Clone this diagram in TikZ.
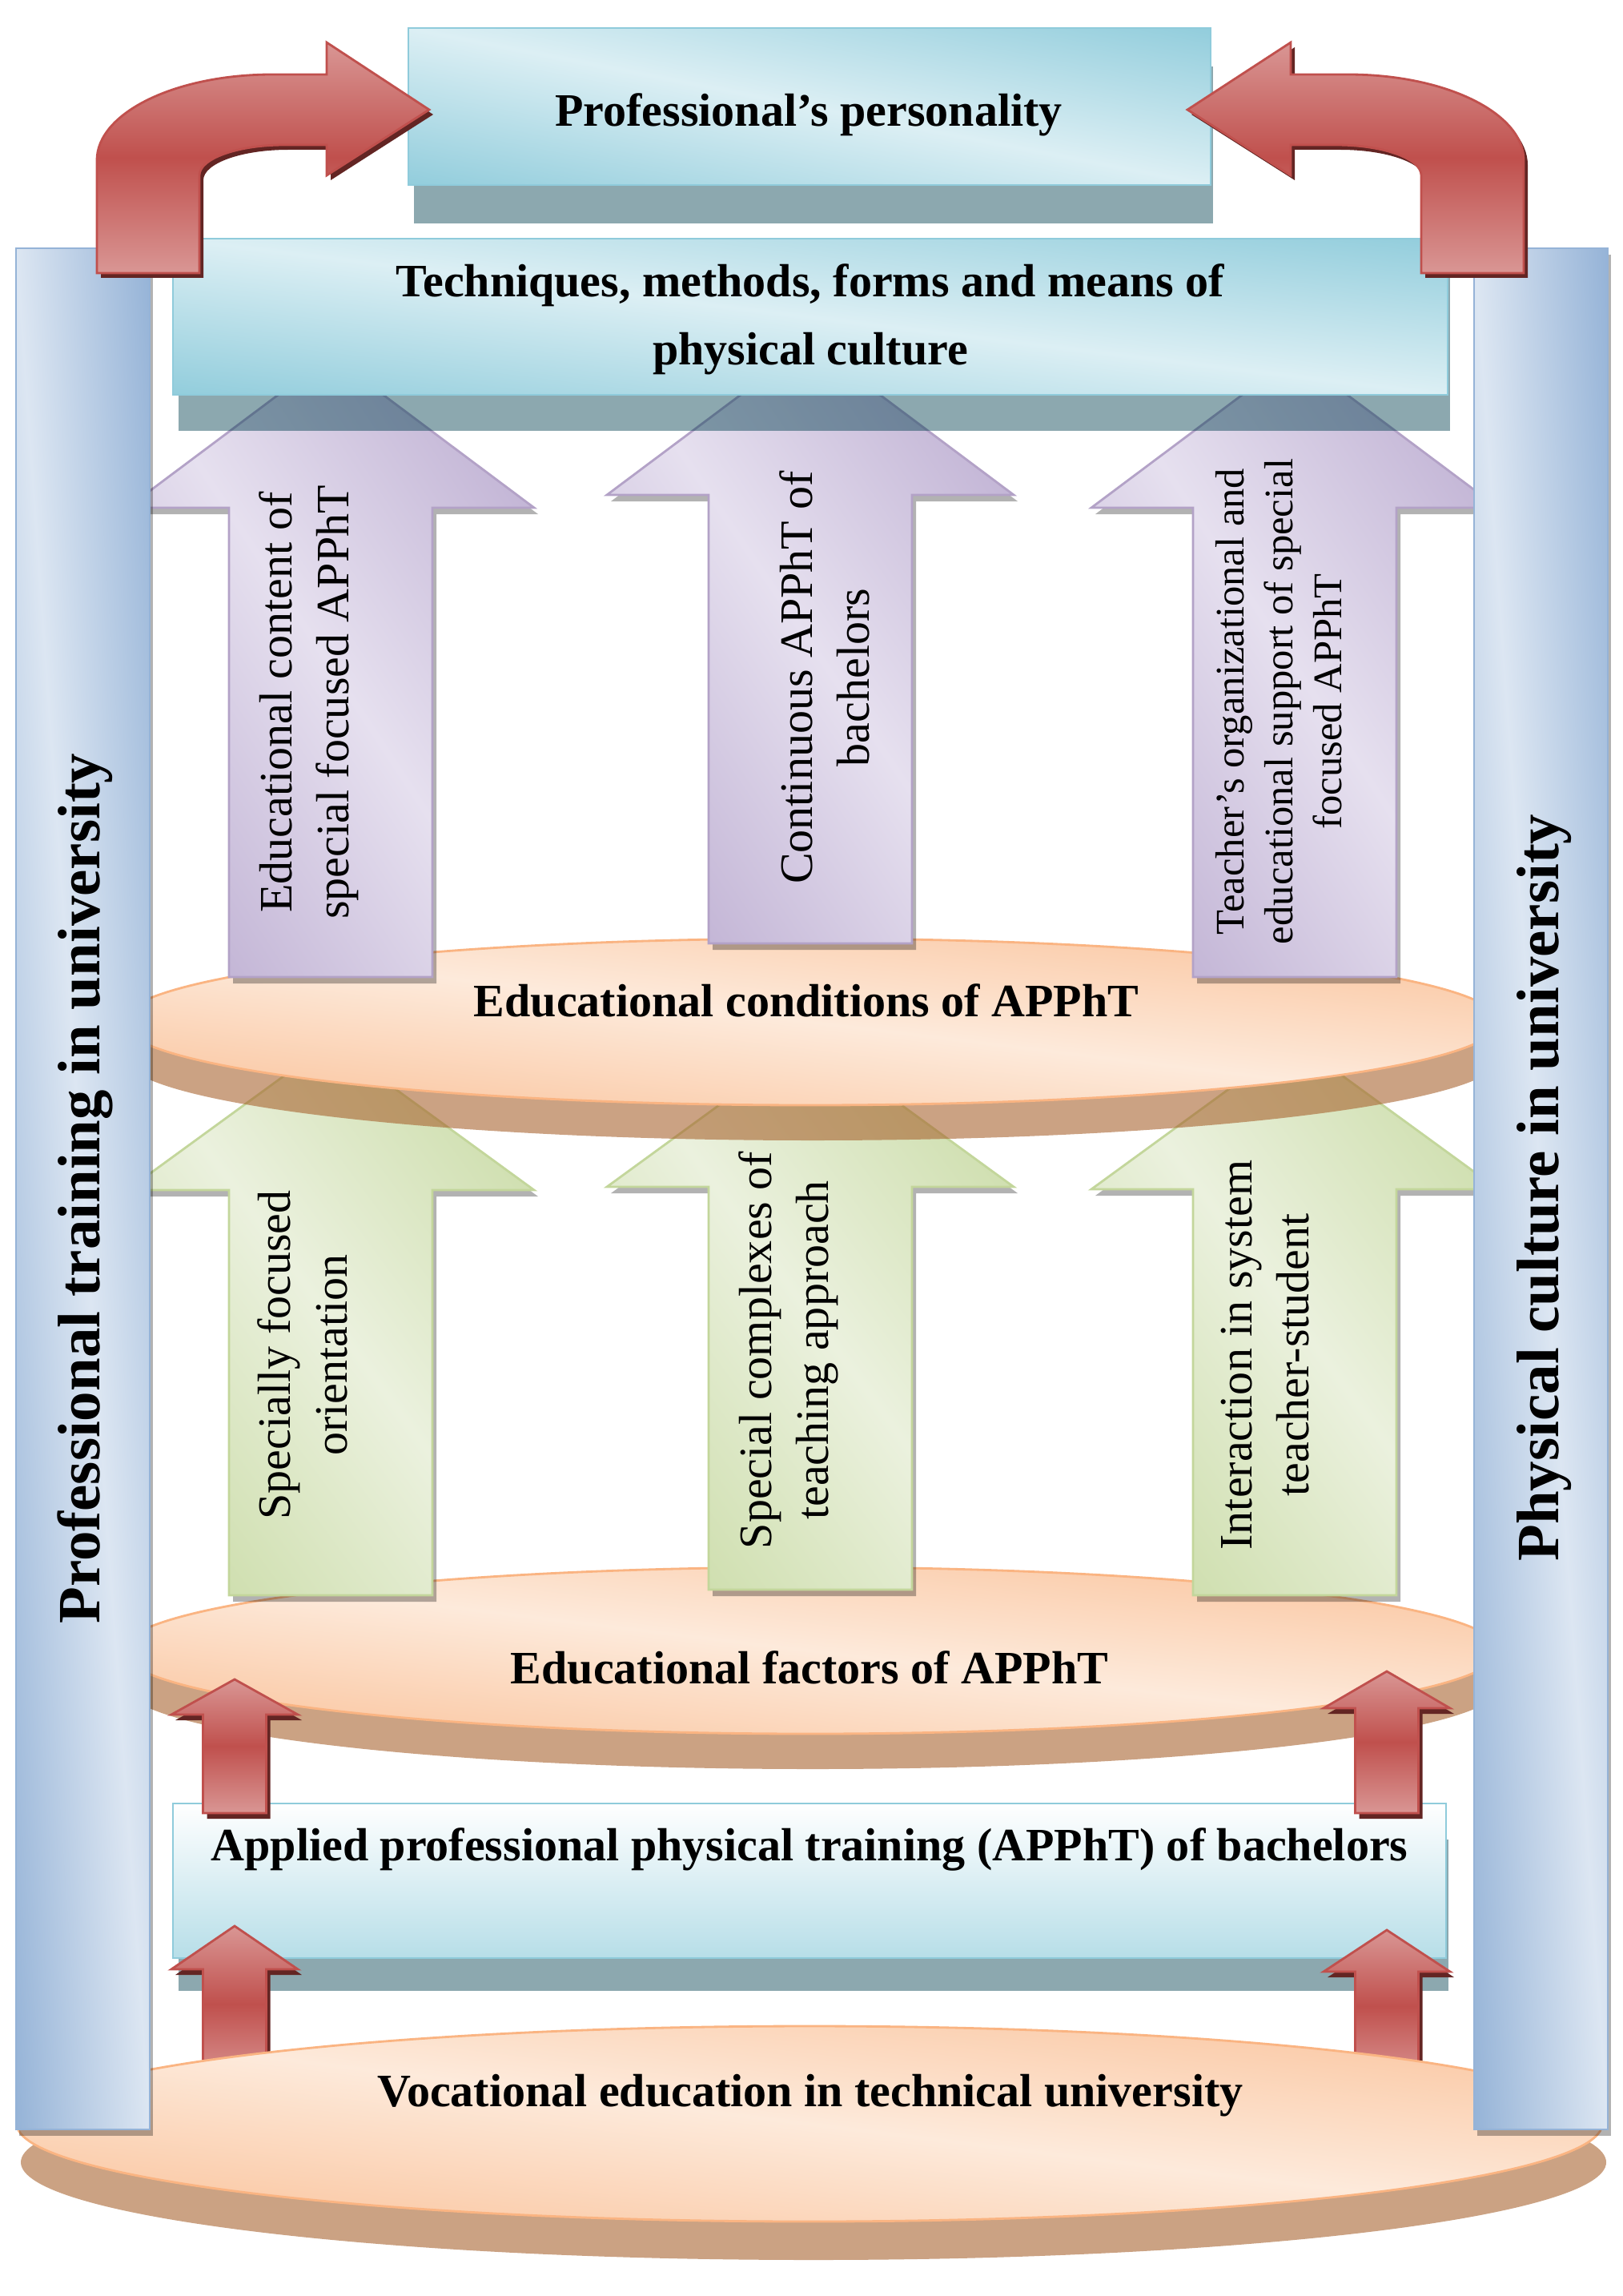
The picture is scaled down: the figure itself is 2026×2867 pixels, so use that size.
\documentclass[tikz,border=0pt]{standalone}
\usepackage{fontspec}
\setmainfont{Liberation Serif}
\definecolor{boxdark}{HTML}{92CDDC}
\definecolor{boxlight}{HTML}{DCEFF4}
\definecolor{boxline}{HTML}{8FCBDB}
\definecolor{boxshadow}{RGB}{0,62,77}
\definecolor{pildark}{HTML}{95B3D7}
\definecolor{pillight}{HTML}{DCE6F2}
\definecolor{purdark}{HTML}{B8A8CE}
\definecolor{purlight}{HTML}{E6E0EF}
\definecolor{purline}{HTML}{B3A2C7}
\definecolor{grndark}{HTML}{C6D9A0}
\definecolor{grnlight}{HTML}{EBF1DE}
\definecolor{grnline}{HTML}{C3D69B}
\definecolor{orgdark}{HTML}{FAC29A}
\definecolor{orglight}{HTML}{FDEADB}
\definecolor{orgline}{RGB}{250,180,130}
\definecolor{orgshadow}{RGB}{168,100,48}
\definecolor{redlight}{HTML}{D99694}
\definecolor{reddark}{HTML}{C0504D}
\definecolor{redshadow}{RGB}{99,37,35}
\definecolor{appbot}{HTML}{B7DEE8}
\tikzset{
  boxline/.style={draw=boxline, line width=0.8pt},
  boxshade/.style={fill=boxshadow, fill opacity=0.45},
  appstyle/.style={draw=boxline, line width=0.8pt, top color=white, bottom color=appbot},
  pillarline/.style={draw=pildark, line width=0.8pt},
  grayshade/.style={fill=black, fill opacity=0.3},
  purline/.style={draw=purline, line width=0.8pt},
  grnline/.style={draw=grnline, line width=0.8pt},
  orgline/.style={draw=orgline, line width=0.8pt},
  orgshade/.style={fill=orgshadow, fill opacity=0.6},
  redstyle/.style={draw=reddark, line width=0.8pt, top color=redlight, bottom color=redlight, middle color=reddark},
  redshade/.style={fill=redshadow},
  uparrow/.style n args={6}{insert path={({#1-#5},#4) -- ({#1-#5},#3) -- ({#1-#6},#3) -- (#1,#2) -- ({#1+#6},#3) -- ({#1+#5},#3) -- ({#1+#5},#4) -- cycle}},
  rectpath/.style n args={4}{insert path={(#1,#2) rectangle (#3,#4)}},
  ellpath/.style n args={4}{insert path={(#1,#2) ellipse[x radius=#3, y radius=#4]}},
  boldlabel/.style={font=\bfseries\fontsize{16.5}{24.2}\selectfont, inner sep=0pt, text=black},
  arrowlabel/.style={font=\fontsize{16.5}{20.2}\selectfont, inner sep=0pt, align=center, rotate=90, text=black},
  smalllabel/.style={font=\fontsize{14.4}{17.3}\selectfont, inner sep=0pt, align=center, rotate=90, text=black},
  pillarlabel/.style={font=\bfseries\fontsize{21.3}{25}\selectfont, inner sep=0pt, rotate=90, anchor=base, text=black}
}
% light band along the diagonal from top-left to bottom-right of the bounding box
\newcommand\bandshade[7]{%
  \pgfmathsetmacro\bw{#4-#2}\pgfmathsetmacro\bh{#5-#3}%
  \pgfmathsetmacro\bphi{atan(\bw/\bh)}%
  \pgfmathsetmacro\bD{(\bw/100)*\bh/veclen(\bw/100,\bh/100)}%
  \pgfmathsetmacro\bL{50*veclen(\bw/100,\bh/100)+60}%
  \pgfmathsetmacro\bcx{(#2+#4)/2}\pgfmathsetmacro\bcy{(#3+#5)/2}%
  \begin{scope}
    \clip[#1];
    \begin{scope}[transform canvas={shift={(\bcx,\bcy)}, rotate=\bphi}]
      \shade[left color=#6, right color=#6, middle color=#7] (-\bD,-\bL) rectangle (\bD,\bL);
    \end{scope}
  \end{scope}%
}
\begin{document}
\begin{tikzpicture}[x=0.01cm, y=-0.01cm, line join=miter]
\useasboundingbox (0,0) rectangle (2026,2867);

% top box
\path[boxshade] (517,83) rectangle (1515,279);
\bandshade{rectpath={510}{35}{1512}{231}}{510}{35}{1512}{231}{boxdark}{boxlight}
\path[boxline] (510,35) rectangle (1512,231);

% factors ellipse
\path[orgshade] (1015,2105) ellipse[x radius=860, y radius=104];
\bandshade{ellpath={1012}{2061}{860}{104}}{152}{1957}{1872}{2165}{orgdark}{orglight}
\path[orgline] (1012,2061) ellipse[x radius=860, y radius=104];

% green arrows
\path[grayshade, shift={(5,8)}, uparrow={413}{1301}{1486}{1992}{127}{254}];
\path[grayshade, shift={(5,8)}, uparrow={1012}{1297}{1482}{1985}{127}{254}];
\path[grayshade, shift={(5,8)}, uparrow={1617}{1300}{1485}{1992}{127}{254}];
\bandshade{uparrow={413}{1301}{1486}{1992}{127}{254}}{159}{1301}{667}{1992}{grndark}{grnlight}
\bandshade{uparrow={1012}{1297}{1482}{1985}{127}{254}}{758}{1297}{1266}{1985}{grndark}{grnlight}
\bandshade{uparrow={1617}{1300}{1485}{1992}{127}{254}}{1363}{1300}{1871}{1992}{grndark}{grnlight}
\path[grnline, uparrow={413}{1301}{1486}{1992}{127}{254}];
\path[grnline, uparrow={1012}{1297}{1482}{1985}{127}{254}];
\path[grnline, uparrow={1617}{1300}{1485}{1992}{127}{254}];

% conditions ellipse
\path[orgshade] (1015,1320) ellipse[x radius=860, y radius=104];
\bandshade{ellpath={1012}{1276}{860}{104}}{152}{1172}{1872}{1380}{orgdark}{orglight}
\path[orgline] (1012,1276) ellipse[x radius=860, y radius=104];

% purple arrows
\path[grayshade, shift={(5,8)}, uparrow={413}{444}{634}{1220}{127}{254}];
\path[grayshade, shift={(5,8)}, uparrow={1012}{428}{618}{1178}{127}{254}];
\path[grayshade, shift={(5,8)}, uparrow={1617}{444}{634}{1220}{127}{254}];
\bandshade{uparrow={413}{444}{634}{1220}{127}{254}}{159}{444}{667}{1220}{purdark}{purlight}
\bandshade{uparrow={1012}{428}{618}{1178}{127}{254}}{758}{428}{1266}{1178}{purdark}{purlight}
\bandshade{uparrow={1617}{444}{634}{1220}{127}{254}}{1363}{444}{1871}{1220}{purdark}{purlight}
\path[purline, uparrow={413}{444}{634}{1220}{127}{254}];
\path[purline, uparrow={1012}{428}{618}{1178}{127}{254}];
\path[purline, uparrow={1617}{444}{634}{1220}{127}{254}];

% techniques box
\path[boxshade] (223,343) rectangle (1811,538);
\bandshade{rectpath={216}{298}{1808}{493}}{216}{298}{1808}{493}{boxdark}{boxlight}
\path[boxline] (216,298) rectangle (1808,493);

% APPhT box
\path[boxshade] (223,2297) rectangle (1809,2486);
\path[appstyle] (216,2252) rectangle (1806,2445);

% lower red arrows (behind bottom ellipse)
\path[redshade, shift={(5,7)}, uparrow={293}{2405}{2459}{2600}{39.5}{79}];
\path[redshade, shift={(5,7)}, uparrow={1732}{2410}{2462}{2600}{39.5}{79}];
\path[redstyle, uparrow={293}{2405}{2459}{2600}{39.5}{79}];
\path[redstyle, uparrow={1732}{2410}{2462}{2600}{39.5}{79}];

% bottom ellipse
\path[orgshade] (1016,2700) ellipse[x radius=990, y radius=122];
\bandshade{ellpath={1011}{2652}{990}{122}}{21}{2530}{2001}{2774}{orgdark}{orglight}
\path[orgline] (1011,2652) ellipse[x radius=990, y radius=122];

% pillars
\path[grayshade] (24,318) rectangle (191,2667);
\path[grayshade] (1845,318) rectangle (2012,2667);
\bandshade{rectpath={20}{310}{187}{2659}}{20}{310}{187}{2659}{pildark}{pillight}
\bandshade{rectpath={1841}{310}{2008}{2659}}{1841}{310}{2008}{2659}{pildark}{pillight}
\path[pillarline] (20,310) rectangle (187,2659);
\path[pillarline] (1841,310) rectangle (2008,2659);

% upper red arrows
\path[redshade, shift={(5,7)}, uparrow={293}{2097}{2141}{2264}{39.5}{79}];
\path[redshade, shift={(5,7)}, uparrow={1732}{2087}{2133}{2264}{39.5}{79}];
\path[redstyle, uparrow={293}{2097}{2141}{2264}{39.5}{79}];
\path[redstyle, uparrow={1732}{2087}{2133}{2264}{39.5}{79}];

% curved arrows
\path[redshade, shift={(5,6)}] (121,341) -- (121,200) arc[start angle=180, end angle=270, x radius=219, y radius=107] -- (408,93) -- (408,53) -- (536,137) -- (408,219) -- (408,181) -- (355,181) arc[start angle=270, end angle=180, x radius=106, y radius=38] -- (249,341) -- cycle;
\path[redstyle] (121,341) -- (121,200) arc[start angle=180, end angle=270, x radius=219, y radius=107] -- (408,93) -- (408,53) -- (536,137) -- (408,219) -- (408,181) -- (355,181) arc[start angle=270, end angle=180, x radius=106, y radius=38] -- (249,341) -- cycle;
\path[redshade, shift={(5,6)}] (1903,341) -- (1903,200) arc[start angle=0, end angle=-90, x radius=219, y radius=107] -- (1612,93) -- (1612,53) -- (1483,137) -- (1612,219) -- (1612,181) -- (1669,181) arc[start angle=-90, end angle=0, x radius=106, y radius=38] -- (1775,341) -- cycle;
\path[redstyle] (1903,341) -- (1903,200) arc[start angle=0, end angle=-90, x radius=219, y radius=107] -- (1612,93) -- (1612,53) -- (1483,137) -- (1612,219) -- (1612,181) -- (1669,181) arc[start angle=-90, end angle=0, x radius=106, y radius=38] -- (1775,341) -- cycle;

% texts
\node[boldlabel, anchor=base] (pers) at (1010,158) {Professional’s personality};
\node[boldlabel, align=center] (tech) at (1012,399) {Techniques, methods, forms and means of\\physical culture};
\node[boldlabel, anchor=base] (cond) at (1007,1269) {Educational conditions of APPhT};
\node[boldlabel, anchor=base] (fact) at (1011,2102) {Educational factors of APPhT};
\node[boldlabel, anchor=base] (appt) at (1011,2323) {Applied professional physical training (APPhT) of bachelors};
\node[boldlabel, anchor=base] (voc) at (1012,2630) {Vocational education in technical university};

\node[arrowlabel] (p1) at (386,877) {Educational content of\\special focused APPhT};
\node[arrowlabel] (p2) at (1030,846) {Continuous APPhT of\\bachelors};
\node[smalllabel] (p3) at (1597,876) {Teacher’s organizational and\\educational support of special\\focused APPhT};
\node[arrowlabel] (g1) at (378,1692) {Specially focused\\orientation};
\node[arrowlabel] (g2) at (985,1686) {Special complexes of\\teaching approach};
\node[arrowlabel] (g3) at (1580,1692) {Interaction in system\\teacher-student};

\node[pillarlabel] (left) at (124,1484) {Professional training in university};
\node[pillarlabel] (right) at (1946,1483) {Physical culture in university};
\end{tikzpicture}
\end{document}
